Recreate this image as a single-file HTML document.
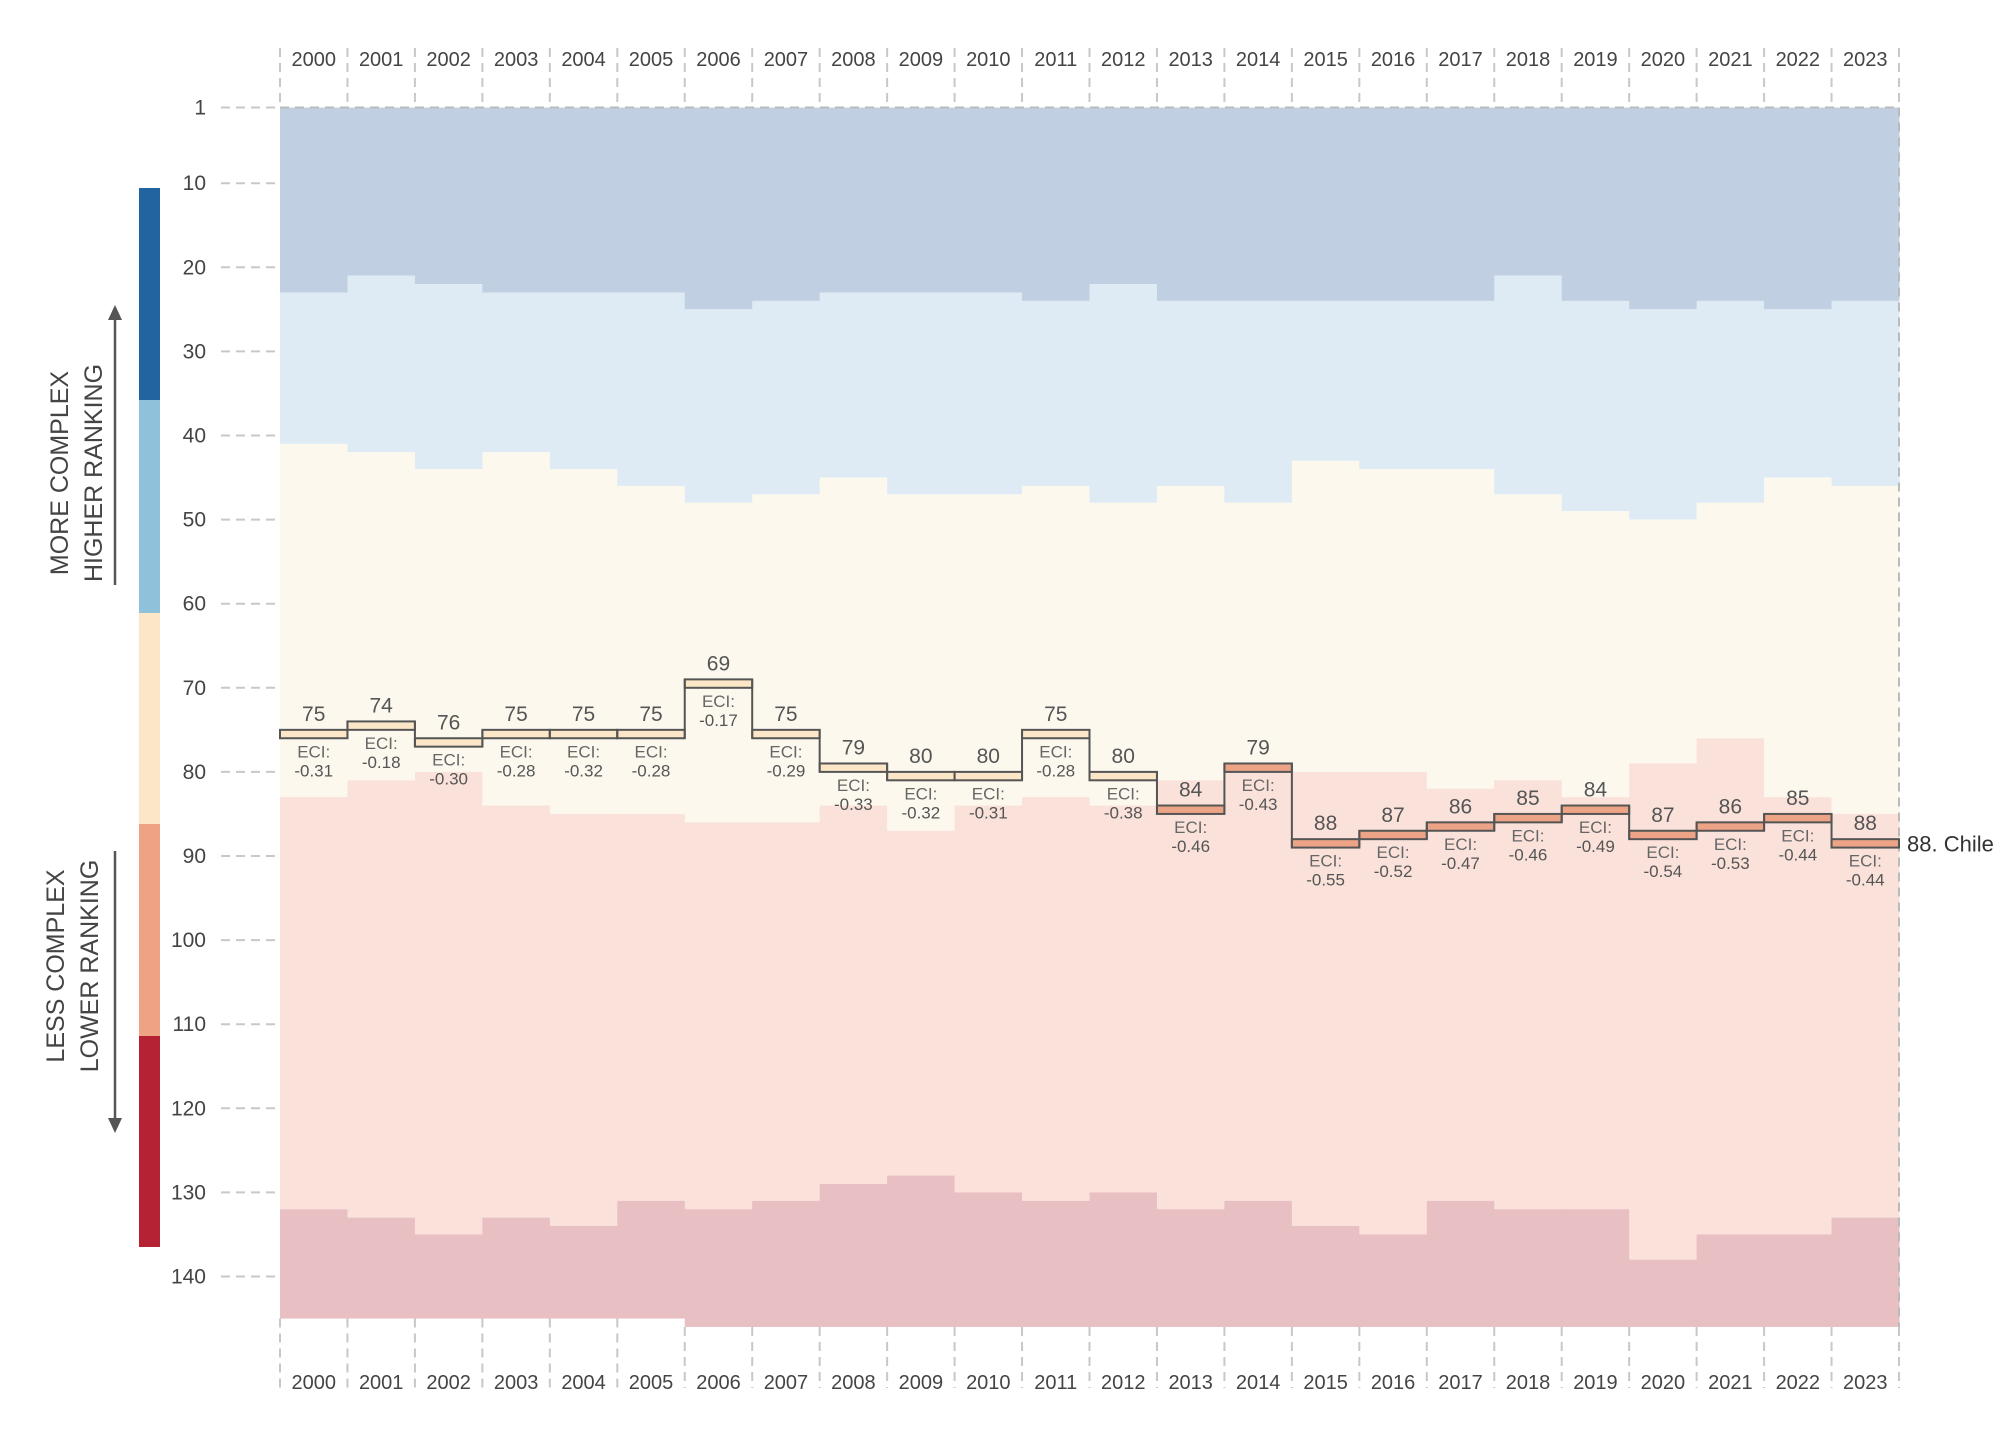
<!DOCTYPE html>
<html><head><meta charset="utf-8">
<style>
html,body{margin:0;padding:0;background:#fff;}
svg{display:block;font-family:"Liberation Sans",sans-serif;}
</style></head>
<body>
<svg id="chart" width="2006" height="1444" viewBox="0 0 2006 1444" xmlns="http://www.w3.org/2000/svg">
  <g id="bands"></g>
  <g id="grid"></g>
  <g id="series"></g>
  <g id="axes"></g>
  <g id="legend">
    <rect x="139" y="188" width="21" height="212" fill="#2264a0"/>
    <rect x="139" y="400" width="21" height="213" fill="#8fc1db"/>
    <rect x="139" y="613" width="21" height="211" fill="#fbe7c8"/>
    <rect x="139" y="824" width="21" height="212" fill="#efa385"/>
    <rect x="139" y="1036" width="21" height="211" fill="#b42233"/>
    <line x1="115" y1="318" x2="115" y2="585" stroke="#555" stroke-width="2.5"/>
    <polygon points="108,320 122,320 115,305" fill="#555"/>
    <line x1="115" y1="851" x2="115" y2="1120" stroke="#555" stroke-width="2.5"/>
    <polygon points="108,1118 122,1118 115,1133" fill="#555"/>
    <text transform="translate(68,473) rotate(-90)" text-anchor="middle" font-size="25" fill="#444">MORE COMPLEX</text>
    <text transform="translate(102,473) rotate(-90)" text-anchor="middle" font-size="25" fill="#444">HIGHER RANKING</text>
    <text transform="translate(64,966) rotate(-90)" text-anchor="middle" font-size="25" fill="#444">LESS COMPLEX</text>
    <text transform="translate(98,966) rotate(-90)" text-anchor="middle" font-size="25" fill="#444">LOWER RANKING</text>
  </g>
</svg>
<script>
const years = [2000,2001,2002,2003,2004,2005,2006,2007,2008,2009,2010,2011,2012,2013,2014,2015,2016,2017,2018,2019,2020,2021,2022,2023];
const chileRank = [75,74,76,75,75,75,69,75,79,80,80,75,80,84,79,88,87,86,85,84,87,86,85,88];
const chileEci = ["-0.31","-0.18","-0.30","-0.28","-0.32","-0.28","-0.17","-0.29","-0.33","-0.32","-0.31","-0.28","-0.38","-0.46","-0.43","-0.55","-0.52","-0.47","-0.46","-0.49","-0.54","-0.53","-0.44","-0.44"];
const band1End = [23,21,22,23,23,23,25,24,23,23,23,24,22,24,24,24,24,24,21,24,25,24,25,24];
const band2End = [41,42,44,42,44,46,48,47,45,47,47,46,48,46,48,43,44,44,47,49,50,48,45,46];
const band3End = [83,81,80,84,85,85,86,86,84,87,84,83,84,81,79,80,80,82,81,83,79,76,83,85];
const band4End = [132,133,135,133,134,131,132,131,129,128,130,131,130,132,131,134,135,131,132,132,138,135,135,133];
const totalCountries = [145,145,145,145,145,145,146,146,146,146,146,146,146,146,146,146,146,146,146,146,146,146,146,146];
const rankTicks = [1,10,20,30,40,50,60,70,80,90,100,110,120,130,140];

const NS = "http://www.w3.org/2000/svg";
const X0 = 280, X1 = 1899, colW = (X1 - X0) / years.length;
function xAt(i){ return X0 + i * colW; }
function yAt(r){ return 107.5 + (r - 1) * 8.41; }
function mk(tag, attrs, parent){ const e = document.createElementNS(NS, tag); for (const k in attrs) e.setAttribute(k, attrs[k]); parent.appendChild(e); return e; }

const bands = document.getElementById('bands');
const grid = document.getElementById('grid');
const series = document.getElementById('series');
const axes = document.getElementById('axes');
const bandColors = ["#c0d0e2","#deebf5","#fcf8ee","#fae2da","#e8bfc2"];

years.forEach((yr, i) => {
  const bounds = [1, band1End[i], band2End[i], band3End[i], band4End[i], totalCountries[i]];
  for (let b = 0; b < 5; b++) {
    const r = mk('rect', {x: xAt(i), y: yAt(bounds[b]), width: colW + 0.5, height: yAt(bounds[b+1]) - yAt(bounds[b]), fill: bandColors[b]}, bands);
    
    
  }
});

for (let i = 0; i <= years.length; i++) {
  const x = xAt(i);
  const t = mk('line', {x1: x, y1: 48, x2: x, y2: yAt(1), stroke: '#c8c8c8', 'stroke-width': 2, 'stroke-dasharray': '9,6'}, grid);
  
  
  const bt = mk('line', {x1: x, y1: (i < 6 ? yAt(145) : yAt(146)), x2: x, y2: 1388, stroke: '#c8c8c8', 'stroke-width': 2, 'stroke-dasharray': '9,6'}, grid);
  
  
}
const rightEdge = mk('line', {x1: X1, y1: yAt(1), x2: X1, y2: yAt(146), stroke: '#bbb', 'stroke-width': 2, 'stroke-dasharray': '9,6'}, grid);


const topLine = mk('line', {x1: X0, y1: yAt(1), x2: X1, y2: yAt(1), stroke: '#bbb', 'stroke-width': 2, 'stroke-dasharray': '9,6'}, grid);



years.forEach((yr, i) => {
  const cx = xAt(i) + colW / 2;
  const a = mk('text', {x: cx, y: 66, 'text-anchor': 'middle', 'font-size': 20, fill: '#444'}, axes);
  a.textContent = yr;
  
  
  const b = mk('text', {x: cx, y: 1389, 'text-anchor': 'middle', 'font-size': 20, fill: '#444'}, axes);
  b.textContent = yr;
  
  
});

rankTicks.forEach(r => {
  const y = yAt(r);
  const t = mk('text', {x: 206, y: y + 7, 'text-anchor': 'end', 'font-size': 21, fill: '#444'}, axes);
  t.textContent = r;
  
  
  const l = mk('line', {x1: 221, y1: y, x2: 278, y2: y, stroke: '#c8c8c8', 'stroke-width': 2, 'stroke-dasharray': '9,6'}, axes);
  
  
});

years.forEach((yr, i) => {
  const r = chileRank[i];
  const top = yAt(r), bot = yAt(r + 1);
  const fill = r >= band3End[i] ? '#eda386' : '#fbe7c8';
  const rc = mk('rect', {x: xAt(i), y: top, width: colW, height: bot - top, fill: fill, stroke: '#555', 'stroke-width': 2}, series);
  
  
  if (i > 0) {
    const pr = chileRank[i-1];
    const y1 = Math.min(yAt(pr), top), y2 = Math.max(yAt(pr + 1), bot);
    const v = mk('line', {x1: xAt(i), y1: y1, x2: xAt(i), y2: y2, stroke: '#555', 'stroke-width': 2}, series);
    
    
  }
  const cx = xAt(i) + colW / 2;
  const lbl = mk('text', {x: cx, y: top - 9, 'text-anchor': 'middle', 'font-size': 21, fill: '#555'}, series);
  lbl.textContent = r;
  
  
  const e1 = mk('text', {x: cx, y: bot + 19, 'text-anchor': 'middle', 'font-size': 17, fill: '#666'}, series);
  e1.textContent = 'ECI:';
  
  
  const e2 = mk('text', {x: cx, y: bot + 38, 'text-anchor': 'middle', 'font-size': 17, fill: '#555'}, series);
  e2.textContent = chileEci[i];
  
  
});
const last = chileRank[chileRank.length - 1];
const end = mk('text', {x: X1 + 8, y: (yAt(last) + yAt(last + 1)) / 2 + 8, 'font-size': 22, fill: '#333'}, series);
end.textContent = last + '. Chile';


</script>
</body></html>
